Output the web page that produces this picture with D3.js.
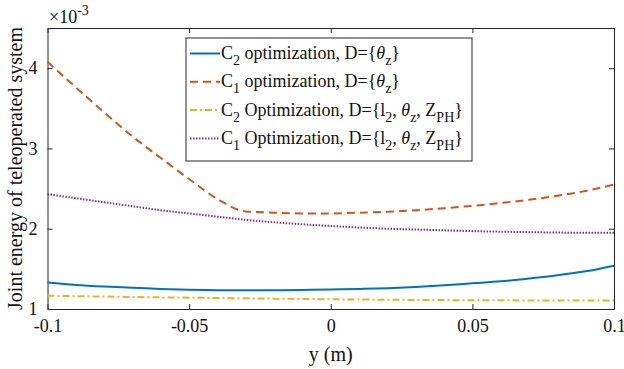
<!DOCTYPE html>
<html>
<head>
<meta charset="utf-8">
<script src="https://cdn.jsdelivr.net/npm/d3@7"></script>
<style>
  body { margin: 0; background: #fff; }
</style>
</head>
<body>
<div id="chart-area"></div>
<script>
// y position (m), shared by all four curves
const yPos = [-0.1, -0.09, -0.08, -0.07, -0.06, -0.05, -0.04, -0.03, -0.02, -0.01, 0,
              0.01, 0.02, 0.03, 0.04, 0.05, 0.06, 0.07, 0.08, 0.09, 0.1];

// joint energy, x1e-3
const c2Theta = [1.33, 1.30, 1.28, 1.265, 1.25, 1.24, 1.235, 1.232, 1.233, 1.237, 1.243,
                 1.25, 1.26, 1.275, 1.295, 1.32, 1.345, 1.38, 1.42, 1.47, 1.54];
const c1Theta = [4.08, 3.76, 3.45, 3.15, 2.88, 2.62, 2.37, 2.215, 2.20, 2.19, 2.19,
                 2.20, 2.21, 2.23, 2.255, 2.285, 2.32, 2.36, 2.41, 2.47, 2.55];
const c2All = [1.165, 1.160, 1.155, 1.150, 1.145, 1.141, 1.137, 1.133, 1.129, 1.125, 1.121,
               1.118, 1.115, 1.113, 1.111, 1.109, 1.108, 1.107, 1.106, 1.105, 1.105];
const c1All = [2.43, 2.38, 2.33, 2.28, 2.23, 2.19, 2.15, 2.11, 2.08, 2.055, 2.035,
               2.015, 2.00, 1.99, 1.98, 1.97, 1.963, 1.957, 1.952, 1.95, 1.95];

const xTicks = [-0.1, -0.05, 0, 0.05, 0.1];
const xTickLabels = ["-0.1", "-0.05", "0", "0.05", "0.1"];
const yTicks = [1, 2, 3, 4];

var serif = "Liberation Serif";

var margin = {left:47.5, right:10, top:28, bottom:60};
var W = 624, H = 369;
var width = W - margin.left - margin.right,
    height = H - margin.top - margin.bottom;

var svg = d3.select("#chart-area")
    .append("svg")
        .attr("width", W)
        .attr("height", H)
        .attr("font-family", serif);
var g = svg.append("g")
        .attr("transform", "translate(" + margin.left + ", " + margin.top + ")");

var x = d3.scaleLinear().domain([-0.1, 0.1]).range([0, width]);
var y = d3.scaleLinear().domain([1, 4.5]).range([height, 0]);

var axisColor = "#262626";

// axes (MATLAB style: ticks inward, box on)
function styleAxis(sel){
    sel.attr("font-family", serif).attr("font-size", 18);
    sel.selectAll("path").attr("stroke", axisColor);
    sel.selectAll("line").attr("stroke", axisColor);
    sel.selectAll("text").attr("fill", "#111");
}
g.append("g")
    .attr("transform", "translate(0," + height + ")")
    .call(d3.axisBottom(x).tickValues(xTicks).tickSize(-5).tickSizeOuter(0).tickPadding(10)
        .tickFormat(function(d, i){ return xTickLabels[i]; }))
    .call(styleAxis);
g.append("g")
    .call(d3.axisLeft(y).tickValues(yTicks).tickSize(-5).tickSizeOuter(0).tickPadding(10)
        .tickFormat(d3.format("d")))
    .call(styleAxis);
g.append("g")
    .call(d3.axisTop(x).tickValues(xTicks).tickSize(-5).tickSizeOuter(0).tickFormat(""))
    .call(styleAxis);
g.append("g")
    .attr("transform", "translate(" + width + ",0)")
    .call(d3.axisRight(y).tickValues(yTicks).tickSize(-5).tickSizeOuter(0).tickFormat(""))
    .call(styleAxis);

// series
var series = [
    {vals: c2Theta, color: "#0072BD", dash: null},
    {vals: c1Theta, color: "#D95319", dash: "8,5"},
    {vals: c2All,  color: "#EDB120", dash: "7,3,2,3"},
    {vals: c1All,  color: "#7E2F8E", dash: "1.5,1.5"}
];

var line = d3.line()
    .x(function(d){ return x(d[0]); })
    .y(function(d){ return y(d[1]); })
    .curve(d3.curveMonotoneX);

series.forEach(function(s){
    g.append("path")
        .datum(yPos.map(function(v, i){ return [v, s.vals[i]]; }))
        .attr("fill", "none")
        .attr("stroke", s.color)
        .attr("stroke-width", 2)
        .attr("stroke-dasharray", s.dash)
        .attr("d", line);
});

// labels
svg.append("text")
    .attr("x", margin.left + width/2)
    .attr("y", 361)
    .attr("font-size", "20px")
    .attr("text-anchor", "middle")
    .attr("fill", "#111")
    .text("y (m)");

svg.append("text")
    .attr("transform", "translate(22," + (margin.top + height/2) + ") rotate(-90)")
    .attr("font-size", "20px")
    .attr("text-anchor", "middle")
    .attr("fill", "#111")
    .text("Joint energy of teleoperated system");

var expo = svg.append("text")
    .attr("x", 49)
    .attr("y", 23)
    .attr("font-size", "18px")
    .attr("fill", "#111");
expo.append("tspan").text("\u00d710");
expo.append("tspan").attr("dy", -8).attr("font-size", "14px").text("-3");

// legend
var lx = 186, ly = 38;
var legend = svg.append("g");
legend.append("rect")
    .attr("x", lx).attr("y", ly)
    .attr("width", 286).attr("height", 123)
    .attr("fill", "#fff").attr("stroke", axisColor).attr("stroke-width", 1);

// each entry: list of [text, kind] where kind: "n" normal, "s" subscript, "i" italic
var legendItems = [
    [["C","n"],["2","s"],[" optimization, D={","n"],["\u03b8","i"],["z","s"],["}","n"]],
    [["C","n"],["1","s"],[" optimization, D={","n"],["\u03b8","i"],["z","s"],["}","n"]],
    [["C","n"],["2","s"],[" Optimization, D={l","n"],["2","s"],[", ","n"],["\u03b8","i"],["z","s"],[", Z","n"],["PH","s"],["}","n"]],
    [["C","n"],["1","s"],[" Optimization, D={l","n"],["2","s"],[", ","n"],["\u03b8","i"],["z","s"],[", Z","n"],["PH","s"],["}","n"]]
];

legendItems.forEach(function(parts, i){
    var rowY = 53.5 + i * 28.3;
    legend.append("line")
        .attr("x1", 190).attr("x2", 220)
        .attr("y1", rowY).attr("y2", rowY)
        .attr("stroke", series[i].color)
        .attr("stroke-width", 2)
        .attr("stroke-dasharray", series[i].dash);
    var t = legend.append("text")
        .attr("x", 221).attr("y", rowY + 5.5)
        .attr("font-size", "18px")
        .attr("fill", "#111");
    var sub = false;
    parts.forEach(function(p){
        var ts = t.append("tspan").text(p[0]);
        if (p[1] === "s") {
            ts.attr("font-size", "14px");
            if (!sub) ts.attr("dy", 6);
            sub = true;
        } else {
            if (sub) ts.attr("dy", -6);
            sub = false;
            if (p[1] === "i") ts.attr("font-style", "italic");
        }
    });
});
</script>
</body>
</html>
